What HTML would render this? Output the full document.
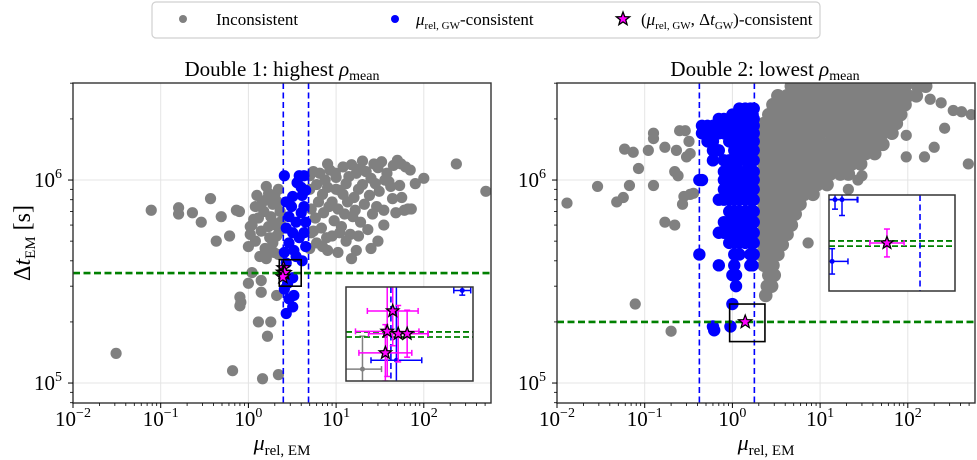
<!DOCTYPE html>
<html><head><meta charset="utf-8">
<style>
html,body{margin:0;padding:0;background:#fff;}
svg{display:block;font-family:"Liberation Serif","DejaVu Serif",serif;}
</style></head>
<body>
<svg id="fig" width="977" height="460" viewBox="0 0 977 460" xmlns="http://www.w3.org/2000/svg">
<defs>
<clipPath id="clipL"><rect x="73" y="83" width="420" height="320"/></clipPath>
<clipPath id="clipR"><rect x="557" y="83" width="418" height="320"/></clipPath>
</defs>
<g id="legend">
<rect x="152" y="2" width="668" height="36" rx="4" fill="#fff" stroke="#d0d0d0" stroke-width="1.2"/>
<g>
<circle cx="183" cy="19" r="4" fill="#808080"/>
<text x="216" y="25" font-size="17">Inconsistent</text>
</g>
<g>
<circle cx="395" cy="19" r="4" fill="#0000ff"/>
<text x="416" y="25" font-size="17"><tspan font-style="italic">μ</tspan><tspan font-size="11" dy="4">rel, GW</tspan><tspan dy="-4">-consistent</tspan></text>
</g>
<g>
<path id="legstar" d="" fill="#ff00ff" stroke="#000" stroke-width="1.3"/>
<text x="641" y="25" font-size="17">(<tspan font-style="italic">μ</tspan><tspan font-size="11" dy="4">rel, GW</tspan><tspan dy="-4">, Δ</tspan><tspan font-style="italic">t</tspan><tspan font-size="11" dy="4">GW</tspan><tspan dy="-4">)-consistent</tspan></text>
</g>
</g>
<g id="panelL"></g>
<g id="panelR"></g>
<text x="282" y="76" font-size="21" text-anchor="middle">Double 1: highest <tspan font-style="italic">ρ</tspan><tspan font-size="14" dy="4">mean</tspan></text>
<text x="765" y="76" font-size="21" text-anchor="middle">Double 2: lowest <tspan font-style="italic">ρ</tspan><tspan font-size="14" dy="4">mean</tspan></text>
<text transform="translate(30,243) rotate(-90)" font-size="24" text-anchor="middle">Δ<tspan font-style="italic">t</tspan><tspan font-size="15" dy="5">EM</tspan><tspan dy="-5"> [s]</tspan></text>
<text x="282" y="450" font-size="22" text-anchor="middle"><tspan font-style="italic">μ</tspan><tspan font-size="15" dy="5">rel, EM</tspan></text>
<text x="766" y="450" font-size="22" text-anchor="middle"><tspan font-style="italic">μ</tspan><tspan font-size="15" dy="5">rel, EM</tspan></text>
</svg>
<script>
// ===== DATA: Double 1 =====
const leftGrayMu = [0.031,0.078,0.16,0.16,0.23,0.29,0.37,0.43,0.49,0.61,0.73,0.79,0.66,1.45,2.2,1.3,1.8,1.65,0.8,0.8,0.82,1.0,1.1,1.4,1.4,2.1,1.6,1.8,235,510,100,
1.0,1.05,1.1,1.2,1.3,1.4,1.5,1.55,1.7,1.8,1.9,2.0,2.1,2.2,1.6,1.2,2.3,1.9,2.2,1.35,2.3,1.7,
5.0,5.5,6,6.5,7,7.5,8,8.5,9,10,11,12,13,14,15,16,17,18,20,22,25,28,30,33,38,42,45,50,55,62,70,
5.2,5.8,6.3,6.8,7.2,7.8,8.3,9.5,10.5,11.5,12.5,13.5,14.5,15.5,16.5,17,19,21,23,24,26,29,31,35,40,44,48,53,60,66,72,35,30,25,
6,8,5.5,7,9,10.5,11,13,18,15,10,12,20,8,9.8,19,27,36,56,80,5.0,5.2,5.0,
1.15,1.45,1.75,2.05,1.25,1.6,1.95,2.25,1.05,2.15];
const leftGrayDt = [1.4e5,7.1e5,7.3e5,6.8e5,6.9e5,6.2e5,8.1e5,5.0e5,6.6e5,5.3e5,7.1e5,7.0e5,1.15e5,1.05e5,1.1e5,2.0e5,2.0e5,1.7e5,2.65e5,2.4e5,2.5e5,3.1e5,3.5e5,3.2e5,2.8e5,2.7e5,4.1e5,4.5e5,1.2e6,8.8e5,1.02e6,
4.7e5,5.4e5,6.0e5,5.0e5,6.5e5,5.6e5,7.0e5,4.6e5,5.9e5,6.6e5,7.6e5,8.4e5,5.3e5,9.0e5,8.0e5,7.4e5,6.2e5,4.9e5,4.3e5,4.2e5,7.0e5,8.6e5,
1.05e6,1.1e6,9.5e5,1.08e6,8.5e5,1.0e6,9.2e5,1.12e6,7.8e5,1.03e6,8.9e5,1.16e6,9.6e5,1.04e6,1.19e6,8.2e5,1.08e6,9.0e5,1.24e6,1.1e6,1.02e6,9.6e5,1.15e6,1.23e6,1.08e6,9.3e5,1.18e6,1.25e6,1.2e6,1.16e6,1.12e6,
7.2e5,6.5e5,7.8e5,5.8e5,6.9e5,5.2e5,7.4e5,6.3e5,7.2e5,5.9e5,6.8e5,7.8e5,5.4e5,6.6e5,7.1e5,4.5e5,6.2e5,7.6e5,5.7e5,8.4e5,6.8e5,7.4e5,8.8e5,7.1e5,9.8e5,8.1e5,6.9e5,9.4e5,7.1e5,7.2e5,7.2e5,6.0e5,5.0e5,4.6e5,
4.9e5,4.5e5,5.6e5,4.7e5,5.3e5,4.4e5,5.5e5,5.0e5,5.3e5,4.1e5,9.0e5,8.5e5,9.5e5,1.2e6,1.08e6,1.14e6,1.2e6,1.0e6,8.2e5,9.6e5,4.6e5,5.5e5,9.0e5,
6.4e5,7.8e5,5.2e5,6.0e5,8.4e5,9.3e5,4.4e5,5.6e5,5.9e5,7.8e5];
const leftBlueMu = [2.57,3.8,4.3,3.6,4.0,4.5,4.1,3.2,2.7,3.1,4.3,4.0,2.9,3.5,4.5,2.7,3.2,4.3,3.8,2.9,3.3,4.5,2.57,3.5,4.1,2.7,3.2,2.8,3.3,2.9,3.2,2.7,2.57,3.6];
const leftBlueDt = [1.05e6,1.05e6,1.05e6,9.7e5,9.2e5,8.9e5,8.4e5,8.3e5,7.8e5,7.4e5,7.4e5,6.9e5,6.6e5,6.2e5,6.2e5,5.8e5,5.5e5,5.5e5,5.2e5,4.9e5,4.5e5,4.7e5,4.4e5,4.2e5,4.0e5,3.9e5,3.3e5,3.1e5,2.7e5,2.6e5,2.37e5,2.2e5,2.9e5,9.7e5];
const leftStarMu = [2.51,2.48,2.54,2.59,2.47];
const leftStarDt = [3.69e5,3.51e5,3.49e5,3.49e5,3.33e5];
const leftStarXerr = [0.024,0.03,0.028,0.02,0.025]; // dex
const leftStarYerr = [0.037,0.048,0.03,0.025,0.03]; // dex
const leftMuLines = [2.5,4.85];
const leftDtLine = [3.48e5];
const leftInsetDtLines = [3.505e5,3.462e5];
const leftInsetGrayMu = [2.35], leftInsetGrayDt = [3.2e5];
const leftInsetBlueMu = [2.53,2.92], leftInsetBlueDt = [3.27e5,3.88e5];
const leftInsetBlueXerr = [0.024,0.008], leftInsetBlueYerr = [0.1,0.005];
// ===== DATA: Double 2 =====
const rightGrayRows = [
 [2.9e6,[4.7,5.9,7.4,9.3,12,15,19,23,29,37,47,59,74,93,130,160]],
 [2.6e6,[3.3,4.2,5.2,6.6,8.3,10,13,17,21,26,33,42,52,66,83,100,125]],
 [2.35e6,[2.9,3.7,4.7,5.9,7.4,9.3,12,15,19,23,29,37,47,59,74,93]],
 [2.1e6,[2.6,3.3,4.2,5.2,6.6,8.3,10,13,17,21,26,33,42,52,66,83]],
 [1.9e6,[2.3,2.9,3.7,4.7,5.9,7.4,9.3,12,15,19,23,29,37,47,59,74]],
 [1.7e6,[2.1,2.6,3.3,4.2,5.2,6.6,8.3,10,13,17,21,26,33,42,52,66]],
 [1.5e6,[2.3,2.9,3.7,4.7,5.9,7.4,9.3,12,15,19,23,29,37,47,52]],
 [1.35e6,[2.1,2.6,3.3,4.2,5.2,6.6,8.3,10,13,17,21,26,33,42]],
 [1.2e6,[2.3,2.9,3.7,4.7,5.9,7.4,9.3,12,15,19,23,29]],
 [1.07e6,[2.1,2.6,3.3,4.2,5.2,6.6,8.3,10,13,17,21]],
 [9.5e5,[2.3,2.9,3.7,4.7,5.9,7.4,9.3,12]],
 [8.5e5,[2.1,2.6,3.3,4.2,5.2,6.6,8.3]],
 [7.6e5,[2.3,2.9,3.7,4.7,5.9]],
 [6.8e5,[2.1,2.6,3.3,4.2,5.2]],
 [6.0e5,[2.3,2.9,3.7,4.7]],
 [5.4e5,[2.1,2.6,3.3,4.2]],
 [4.8e5,[2.3,2.9,3.7]],
 [4.3e5,[2.1,2.6,3.3]],
 [3.8e5,[2.3,2.9]],
 [3.4e5,[2.6,3.0]],
 [3.0e5,[2.5,2.8]],
 [2.7e5,[2.4]]
];
const rightGrayMu = [0.013,0.029,0.048,0.057,0.059,0.074,0.067,0.085,0.11,0.126,0.126,0.126,0.17,0.23,0.17,0.22,0.22,0.24,0.27,0.28,0.25,0.29,0.32,0.33,0.30,0.33,0.36,0.078,0.2,
 7.3,21,27,30,96,155,200,263,330,410,530,490,96,120,180,240];
const rightGrayDt = [7.7e5,9.3e5,7.8e5,8.2e5,1.42e6,1.37e6,9.4e5,1.14e6,1.4e6,9.4e5,1.6e6,1.7e6,1.45e6,1.4e6,6.2e5,6.0e5,1.1e6,1.05e6,7.6e5,8.3e5,1.75e6,1.75e6,1.55e6,1.35e6,1.3e6,8.5e5,8.6e5,2.45e5,1.8e5,
 4.9e5,9.0e5,1.0e6,1.05e6,1.3e6,1.3e6,1.45e6,1.8e6,2.2e6,2.17e6,2.1e6,1.2e6,1.66e6,2.6e6,2.5e6,2.4e6];
const rightBlueRows = [
 [2.25e6,[1.2,1.4,1.6,1.75]],
 [2.1e6,[1.0,1.1,1.3,1.5,1.7]],
 [2.0e6,[0.7,0.8,0.92,1.05,1.2,1.4,1.6,1.75]],
 [1.85e6,[0.45,0.52,0.6,0.7,0.8,0.92,1.05,1.2,1.4,1.6,1.75]],
 [1.7e6,[0.45,0.52,0.6,0.7,0.8,0.92,1.05,1.2,1.4,1.6,1.75]],
 [1.55e6,[0.52,0.6,0.92,1.05,1.2,1.4,1.6,1.75]],
 [1.4e6,[0.6,0.7,1.05,1.2,1.4,1.6,1.75]],
 [1.25e6,[0.6,0.8,0.92,1.05,1.2,1.4,1.6,1.75]],
 [1.1e6,[0.8,0.92,1.05,1.2,1.4,1.6,1.75]],
 [1.0e6,[0.42,0.45,0.8,0.92,1.05,1.2,1.4,1.6,1.75]],
 [9.0e5,[0.8,0.92,1.05,1.2,1.4,1.6,1.75]],
 [8.0e5,[0.7,0.8,0.92,1.05,1.2,1.4,1.6,1.75]],
 [7.0e5,[0.92,1.05,1.2,1.4,1.6,1.75]],
 [6.2e5,[0.8,0.92,1.05,1.2,1.4,1.6,1.75]],
 [5.5e5,[0.7,0.8,0.92,1.05,1.2,1.4,1.6,1.75]],
 [4.9e5,[0.92,1.05,1.2,1.4,1.6,1.75]],
 [4.3e5,[0.42,1.05,1.2,1.6,1.75]],
 [3.8e5,[0.7,1.05,1.6,1.7]],
 [3.4e5,[1.0,1.1]],
 [3.0e5,[1.1]],
 [2.45e5,[1.0]],
 [1.9e5,[0.6,0.95]],
 [1.82e5,[0.62]]
];
const rightStarMu = [1.4], rightStarDt = [2.0e5];
const rightStarXerr = [0.054], rightStarYerr = [0.044];
const rightMuLines = [0.42,1.78];
const rightDtLine = [2.0e5];
const rightInsetDtLines = [2.03e5,1.955e5];
const rightInsetBlueMu = [0.96,1.01,0.94], rightInsetBlueDt = [2.74e5,2.74e5,1.75e5];
const rightInsetBlueXerr = [0.07,0.05,0.05], rightInsetBlueYerr = [0.03,0.05,0.04];
// ticks
const xTickExps = [-2,-1,0,1,2];
const yTickExps = [5,6];

const NS="http://www.w3.org/2000/svg";
const L=Math.log10;
function mk(tag,attrs,parent){const e=document.createElementNS(NS,tag);for(const k in attrs)e.setAttribute(k,attrs[k]);parent.appendChild(e);return e;}
function starPath(cx,cy,R){let d="";const r=R*0.42;for(let i=0;i<10;i++){const a=-Math.PI/2+i*Math.PI/5;const rr=i%2?r:R;d+=(i?"L":"M")+(cx+rr*Math.cos(a)).toFixed(2)+","+(cy+rr*Math.sin(a)).toFixed(2);}return d+"Z";}
document.getElementById('legstar').setAttribute('d',starPath(623,19,7));

function panel(g,X0,clipId,d){
  const Y0=83,Y1=403,xmin=-2,ppd=87.7,ytop=6.478,ppdy=203;
  const X1=X0+418;
  const sx=m=>X0+(L(m)-xmin)*ppd;
  const sy=t=>Y0+(ytop-L(t))*ppdy;
  xTickExps.forEach(e=>{const x=X0+(e-xmin)*ppd;const l=mk('line',{x1:x,x2:x,y1:Y0,y2:Y1,stroke:'#e4e4e4','stroke-width':1},g);
    });
  yTickExps.forEach(e=>{const y=Y0+(ytop-e)*ppdy;const l=mk('line',{x1:X0,x2:X1,y1:y,y2:y,stroke:'#e4e4e4','stroke-width':1},g);
    });
  const pg=mk('g',{'clip-path':'url(#'+clipId+')'},g);
  
  d.grayMu.forEach((m,i)=>{const c=mk('circle',{cx:sx(m),cy:sy(d.grayDt[i]),r:5.6,fill:'#808080'},pg);
    });
  d.grayRows.forEach(row=>row[1].forEach(m=>{const c=mk('circle',{cx:sx(m),cy:sy(row[0]),r:6.8,fill:'#808080'},pg);
    }));
  d.blueMu.forEach((m,i)=>{const c=mk('circle',{cx:sx(m),cy:sy(d.blueDt[i]),r:5.6,fill:'#0000ff'},pg);
    });
  d.blueRows.forEach(row=>row[1].forEach(m=>{const c=mk('circle',{cx:sx(m),cy:sy(row[0]),r:6.2,fill:'#0000ff'},pg);
    }));
  d.muLines.forEach(m=>{const l=mk('line',{x1:sx(m),x2:sx(m),y1:Y0,y2:Y1,stroke:'#0000ff','stroke-width':1.6,'stroke-dasharray':'6,3.5'},pg);
    });
  d.dtLine.forEach(t=>{const l=mk('line',{x1:X0,x2:X1,y1:sy(t),y2:sy(t),stroke:'#008000','stroke-width':2.6,'stroke-dasharray':'7,3.5'},pg);
    });
  d.starMu.forEach((m,i)=>{const s=mk('path',{d:starPath(sx(m),sy(d.starDt[i]),7),fill:'#ff00ff',stroke:'#000','stroke-width':1.2},pg);
    });
  const zb=d.zoomBox;
  const zr=mk('rect',{x:sx(zb[0]),y:sy(zb[3]),width:sx(zb[1])-sx(zb[0]),height:sy(zb[2])-sy(zb[3]),fill:'none',stroke:'#000','stroke-width':1.6},pg);
  
  const fr=mk('rect',{x:X0,y:Y0,width:X1-X0,height:Y1-Y0,fill:'none',stroke:'#333','stroke-width':1.4},g);
  
  for(let e=-2;e<=2;e++){for(let k=1;k<10;k++){const lv=e+L(k);const x=X0+(lv-xmin)*ppd;if(x>X1+0.5)break;
    const t=mk('line',{x1:x,x2:x,y1:Y1,y2:Y1+(k==1?5:3),stroke:'#000','stroke-width':k==1?1:0.8},g);
    }}
  xTickExps.forEach(e=>{const x=X0+(e-xmin)*ppd;const tx=mk('text',{x:x,y:426,'font-size':21,'text-anchor':'middle'},g);
    
    tx.innerHTML='10<tspan font-size="14" dy="-9">'+(e<0?'−'+(-e):e)+'</tspan>';});
  for(let e=4;e<=6;e++){for(let k=1;k<10;k++){const lv=e+L(k);const y=Y0+(ytop-lv)*ppdy;if(y<Y0-0.5||y>Y1+0.5)continue;
    const t=mk('line',{x1:X0-(k==1?5:3),x2:X0,y1:y,y2:y,stroke:'#000','stroke-width':k==1?1:0.8},g);
    }}
  yTickExps.forEach(e=>{const y=Y0+(ytop-e)*ppdy;const tx=mk('text',{x:X0-25,y:y+7,'font-size':21,'text-anchor':'middle'},g);
    
    tx.innerHTML='10<tspan font-size="14" dy="-9">'+e+'</tspan>';});
  const I=d.inset;
  const ig=mk('g',{},g);
  
  mk('rect',{x:I.x,y:I.y,width:I.w,height:I.h,fill:'#fff'},ig);
  const clipI=mk('clipPath',{id:clipId+'i'},ig);mk('rect',{x:I.x,y:I.y,width:I.w,height:I.h},clipI);
  const ic=mk('g',{'clip-path':'url(#'+clipId+'i)'},ig);
  const ix=m=>I.x+(L(m)-I.mu0)*I.ppx;
  const iy=t=>I.y+(I.dt0-L(t))*I.ppy;
  function eb(m,t,xe,ye,col,r,star){
    const x=ix(m),y=iy(t),dx=xe*I.ppx,dy=ye*I.ppy;
    const a=mk('line',{x1:x-dx,x2:x+dx,y1:y,y2:y,stroke:col,'stroke-width':1.5},ic);
    
    const b=mk('line',{x1:x,x2:x,y1:y-dy,y2:y+dy,stroke:col,'stroke-width':1.5},ic);
    
    [[x-dx,y-3,x-dx,y+3],[x+dx,y-3,x+dx,y+3],[x-3,y-dy,x+3,y-dy],[x-3,y+dy,x+3,y+dy]].forEach(c=>{
      const cp=mk('line',{x1:c[0],y1:c[1],x2:c[2],y2:c[3],stroke:col,'stroke-width':1.5},ic);
      });
    if(star){const s=mk('path',{d:starPath(x,y,6.5),fill:'#ff00ff',stroke:'#000','stroke-width':1.3},ic);
      }
    else{const c=mk('circle',{cx:x,cy:y,r:r,fill:col},ic);}
  }
  (I.grayMu||[]).forEach((m,i)=>eb(m,I.grayDt[i],0.018,0.035,'#808080',2.5,false));
  I.blueMu.forEach((m,i)=>eb(m,I.blueDt[i],I.blueXerr[i],I.blueYerr[i],'#0000ff',2.5,false));
  I.dtLines.forEach(t=>{const l=mk('line',{x1:I.x,x2:I.x+I.w,y1:iy(t),y2:iy(t),stroke:'#008000','stroke-width':1.8,'stroke-dasharray':'6,3'},ic);
    });
  d.muLines.forEach(m=>{const l=mk('line',{x1:ix(m),x2:ix(m),y1:I.y,y2:I.y+I.h,stroke:'#0000ff','stroke-width':1.6,'stroke-dasharray':'6,3.5'},ic);
    });
  d.starMu.forEach((m,i)=>eb(m,d.starDt[i],d.starXerr[i],d.starYerr[i],'#ff00ff',0,false));
  d.starMu.forEach((m,i)=>eb(m,d.starDt[i],0,0,'#ff00ff',0,true));
  mk('rect',{x:I.x,y:I.y,width:I.w,height:I.h,fill:'none',stroke:'#333','stroke-width':1.5},ig);
}

panel(document.getElementById('panelL'),73,'clipL',{
  grayMu:leftGrayMu,grayDt:leftGrayDt,grayRows:[],blueMu:leftBlueMu,blueDt:leftBlueDt,blueRows:[],
  starMu:leftStarMu,starDt:leftStarDt,starXerr:leftStarXerr,starYerr:leftStarYerr,
  muLines:leftMuLines,dtLine:leftDtLine,zoomBox:[2.25,4.0,3.0e5,4.05e5],
  inset:{x:346,y:287,w:127,h:94,mu0:0.3555,ppx:1058,dt0:5.5925,ppy:940,dtLines:leftInsetDtLines,
    grayMu:leftInsetGrayMu,grayDt:leftInsetGrayDt,blueMu:leftInsetBlueMu,blueDt:leftInsetBlueDt,blueXerr:leftInsetBlueXerr,blueYerr:leftInsetBlueYerr}
});
panel(document.getElementById('panelR'),557,'clipR',{
  grayMu:rightGrayMu,grayDt:rightGrayDt,grayRows:rightGrayRows,blueMu:[],blueDt:[],blueRows:rightBlueRows,
  starMu:rightStarMu,starDt:rightStarDt,starXerr:rightStarXerr,starYerr:rightStarYerr,
  muLines:rightMuLines,dtLine:rightDtLine,zoomBox:[0.93,2.35,1.6e5,2.45e5],
  inset:{x:829,y:195,w:126,h:96,mu0:-0.0367,ppx:317,dt0:5.4524,ppy:317,dtLines:rightInsetDtLines,
    grayMu:[],grayDt:[],blueMu:rightInsetBlueMu,blueDt:rightInsetBlueDt,blueXerr:rightInsetBlueXerr,blueYerr:rightInsetBlueYerr}
});
</script>
</body></html>
